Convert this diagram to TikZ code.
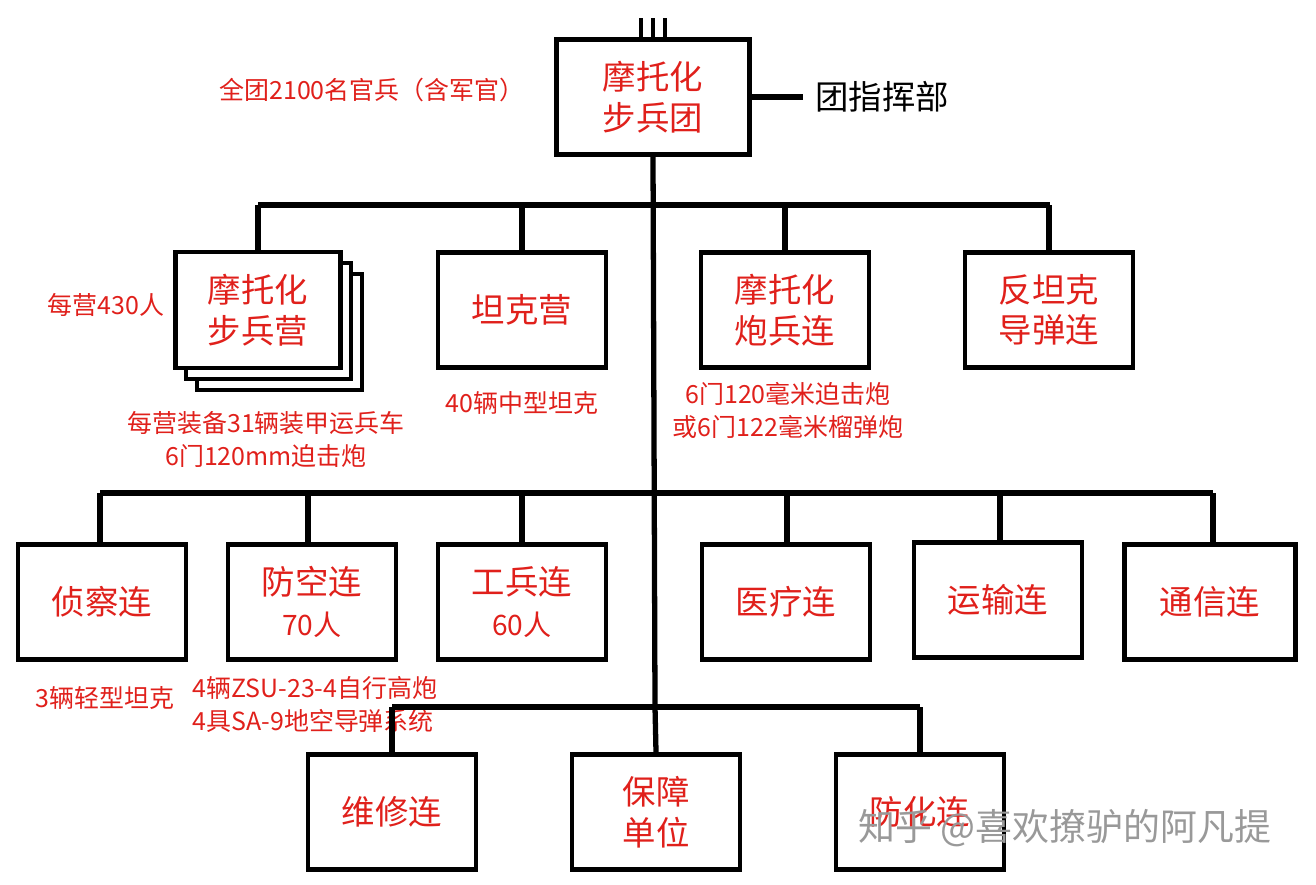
\documentclass[tikz,border=0pt]{standalone}
\usepackage{fontspec}
\setmainfont{Noto Sans CJK SC}
\usetikzlibrary{positioning}
\definecolor{redtext}{HTML}{E0201B}
\tikzset{
  unit/.style={draw, line width=1.3pt, fill=white, minimum width=1.68cm, minimum height=1.15cm,
    align=center, text=redtext, font=\fontsize{9.5}{11.5}\selectfont},
  note/.style={text=redtext, font=\fontsize{7.1}{9.4}\selectfont, inner sep=0pt},
  wire/.style={line width=1.5pt}
}
\begin{document}
\begin{tikzpicture}[x=0.01cm, y=-0.01cm]
  \useasboundingbox (0,0) rectangle (1316,884);

  % regiment
  \node[unit, minimum width=1.93cm] (rgt) at (653,97) {摩托化\\步兵团};
  \foreach \x in {641,653,665}{
    \draw[line width=1.1pt] (\x,18) -- (\x,40);
  }
  \node[font=\fontsize{9.5}{10}\selectfont, anchor=west] (hq) at (803,97) {团指挥部};
  \draw[wire] (rgt.east) -- (hq.west);
  \node[note] (total) at (372,90) {全团2100名官兵（含军官）};

  % first row
  \coordinate (t3) at (655,707);
  \draw[wire] (rgt.south) -- (t3);
  \draw[wire] (258,205) -- (1050,205);
  \draw[unit] (197,274) rectangle (362,390);
  \draw[unit] (186,263) rectangle (351,379);
  \node[unit, minimum width=1.65cm, minimum height=1.16cm] (mib) at (258,310) {摩托化\\步兵营};
  \node[unit] (tkb) at (522,310) {坦克营};
  \node[unit] (art) at (785,310) {摩托化\\炮兵连};
  \node[unit] (atg) at (1049,310) {反坦克\\导弹连};
  \foreach \n/\x in {mib/258,tkb/522,art/785,atg/1049}{
    \draw[wire] (\x,205) -- (\n.north);
  }
  \node[note] (n1) at (106,305) {每营430人};
  \node[note, align=center] (n2) at (266,439) {每营装备31辆装甲运兵车\\6门120mm迫击炮};
  \node[note] (n3) at (522,403) {40辆中型坦克};
  \node[note, align=center] (n4) at (788,410) {6门120毫米迫击炮\\或6门122毫米榴弹炮};

  % second row
  \draw[wire] (100,493) -- (1213,493);
  \node[unit] (rec) at (102,602) {侦察连};
  \node[unit] (aad) at (312,602) {防空连\\{\fontsize{8}{9}\selectfont 70人}};
  \node[unit] (eng) at (522,602) {工兵连\\{\fontsize{8}{9}\selectfont 60人}};
  \node[unit] (med) at (786,602) {医疗连};
  \node[unit] (trn) at (998,600) {运输连};
  \node[unit, minimum width=1.71cm] (sig) at (1210,602) {通信连};
  \foreach \n/\x in {rec/100,aad/308,eng/522,med/787,trn/1000,sig/1213}{
    \draw[wire] (\x,493) -- (\x,545);
  }
  \node[note] (n5) at (105,698) {3辆轻型坦克};
  \node[note, align=left] (n6) at (315,704) {4辆ZSU-23-4自行高炮\\4具SA-9地空导弹系统};

  % third row
  \draw[wire] (392,707) -- (920,707);
  \node[unit] (rep) at (392,812) {维修连};
  \node[unit] (sup) at (656,812) {保障\\单位};
  \node[unit] (chm) at (920,812) {防化连};
  \foreach \n/\x in {rep/392,sup/655,chm/920}{
    \draw[wire] (\x,707) -- (\n.north);
  }
  \node[text=black!40, font=\fontsize{10.5}{12}\selectfont] (wm) at (1065,828) {知乎 @喜欢撩驴的阿凡提};
\end{tikzpicture}
\end{document}
